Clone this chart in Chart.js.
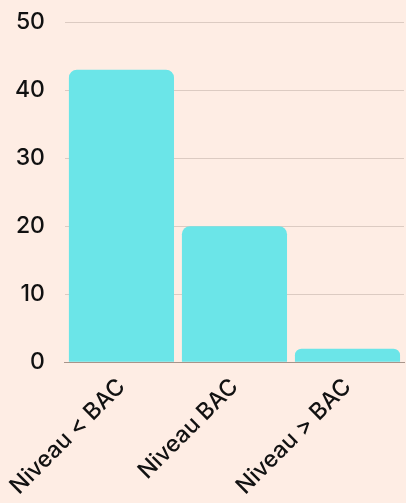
<!DOCTYPE html>
<html>
<head>
<meta charset="utf-8">
<script src="https://cdn.jsdelivr.net/npm/chart.js@4"></script>
<style>
  html, body { margin: 0; padding: 0; background: #feede4; }
  #wrap { width: 406px; height: 503px; }
</style>
</head>
<body>
<div id="wrap"><canvas id="myChart"></canvas></div>
<script>
var xValues = ["Niveau < BAC", "Niveau BAC", "Niveau > BAC"];
var yValues = [43, 20, 2];
var yTicks = [0, 10, 20, 30, 40, 50];

new Chart("myChart", {
  type: "bar",
  data: {
    labels: xValues,
    datasets: [{
      data: yValues,
      backgroundColor: "#6be5e8",
      borderRadius: {topLeft: 8, topRight: 8},
      borderSkipped: "bottom",
      barPercentage: 0.93,
      categoryPercentage: 1
    }]
  },
  options: {
    responsive: true,
    maintainAspectRatio: false,
    animation: false,
    layout: {padding: {top: 0, right: 2, left: -5, bottom: 0}},
    plugins: {legend: {display: false}, tooltip: {enabled: false}},
    scales: {
      y: {
        min: 0, max: 50,
        afterBuildTicks: function(axis) { axis.ticks = yTicks.map(function(v) { return {value: v}; }); },
        afterFit: function(axis) { axis.paddingTop = 22; },
        grid: {color: "#dccbc2", drawTicks: false},
        border: {display: false},
        ticks: {color: "#111", padding: 20, font: {family: "Inter", size: 23, weight: "500"}}
      },
      x: {
        grid: {display: false},
        border: {color: "#a8948a"},
        ticks: {color: "#111", maxRotation: 45, minRotation: 45, font: {family: "Inter", size: 23, weight: "500"}}
      }
    }
  }
});
</script>
</body>
</html>
